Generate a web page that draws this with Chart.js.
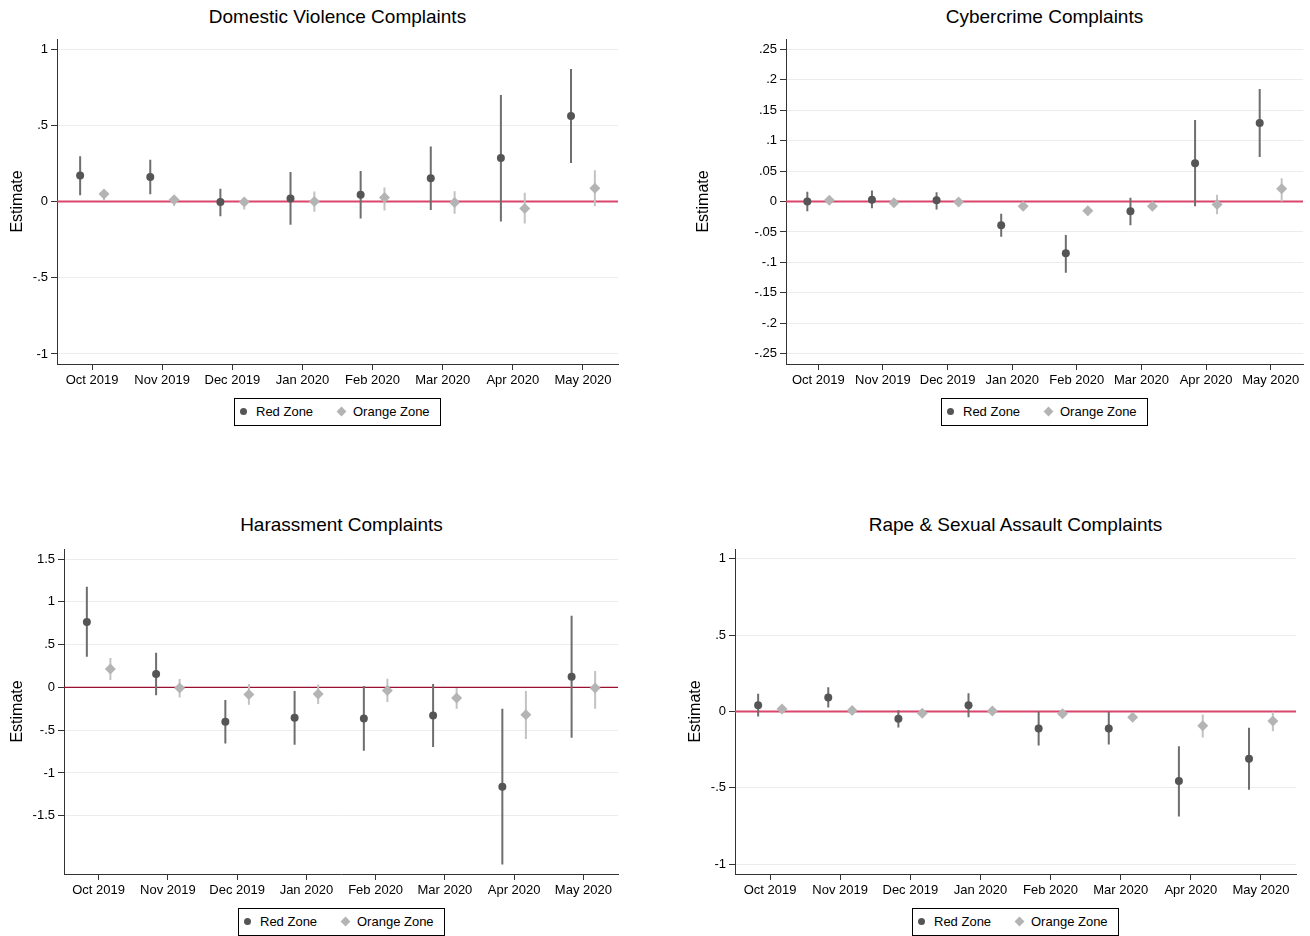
<!DOCTYPE html>
<html>
<head>
<meta charset="utf-8">
<script src="https://cdn.jsdelivr.net/npm/chart.js@4.4.1/dist/chart.umd.min.js"></script>
<style>
  html, body { margin:0; padding:0; background:#fff; }
  body { width:1310px; height:936px; position:relative; overflow:hidden; font-family:"Liberation Sans", Arial, sans-serif; }
  canvas { position:absolute; }
  .title { position:absolute; font-size:19px; color:#000; text-align:center; white-space:nowrap; line-height:24px; }
  .legend { position:absolute; width:205px; height:26px; border:1px solid #000; box-sizing:content-box; font-size:13px; color:#000; }
  .legend .dot { position:absolute; left:5px; top:9px; width:7px; height:7px; border-radius:50%; background:#555; }
  .legend .dia { position:absolute; left:103px; top:9px; width:7px; height:7px; background:#b4b4b4; transform:rotate(45deg); }
  .legend .t1 { position:absolute; left:21px; top:5px; line-height:16px; }
  .legend .t2 { position:absolute; left:118px; top:5px; line-height:16px; }
</style>
</head>
<body>
<div class="title" style="left:137px; top:5px; width:401px;">Domestic Violence Complaints</div>
<div class="title" style="left:844px; top:5px; width:401px;">Cybercrime Complaints</div>
<div class="title" style="left:141px; top:513px; width:401px;">Harassment Complaints</div>
<div class="title" style="left:815px; top:513px; width:401px;">Rape &amp; Sexual Assault Complaints</div>

<canvas id="c1" width="655" height="395" style="left:0px; top:0px;"></canvas>
<canvas id="c2" width="630" height="395" style="left:680px; top:0px;"></canvas>
<canvas id="c3" width="655" height="395" style="left:0px; top:510px;"></canvas>
<canvas id="c4" width="630" height="395" style="left:680px; top:510px;"></canvas>

<div class="legend" style="left:234px; top:398px;"><span class="dot"></span><span class="t1">Red Zone</span><span class="dia"></span><span class="t2">Orange Zone</span></div>
<div class="legend" style="left:941px; top:398px;"><span class="dot"></span><span class="t1">Red Zone</span><span class="dia"></span><span class="t2">Orange Zone</span></div>
<div class="legend" style="left:238px; top:908px;"><span class="dot"></span><span class="t1">Red Zone</span><span class="dia"></span><span class="t2">Orange Zone</span></div>
<div class="legend" style="left:912px; top:908px;"><span class="dot"></span><span class="t1">Red Zone</span><span class="dia"></span><span class="t2">Orange Zone</span></div>

<script>
// ---------------- DATA ----------------
const months = ['Oct 2019', 'Nov 2019', 'Dec 2019', 'Jan 2020', 'Feb 2020', 'Mar 2020', 'Apr 2020', 'May 2020'];
const seriesNames = ['Red Zone', 'Orange Zone'];

// Domestic Violence
const dvRedEst = [0.170, 0.160, -0.004, 0.020, 0.044, 0.153, 0.286, 0.561];
const dvRedLo  = [0.041, 0.048, -0.096, -0.153, -0.111, -0.055, -0.131, 0.253];
const dvRedHi  = [0.297, 0.273, 0.083, 0.194, 0.200, 0.360, 0.699, 0.869];
const dvOrgEst = [0.050, 0.011, -0.004, 0.000, 0.026, -0.007, -0.046, 0.087];
const dvOrgLo  = [0.005, -0.030, -0.052, -0.068, -0.059, -0.081, -0.144, -0.031];
const dvOrgHi  = [0.080, 0.035, 0.024, 0.065, 0.092, 0.068, 0.057, 0.205];
const dvTicks = [-1, -0.5, 0, 0.5, 1];
const dvTickLabels = ['-1', '-.5', '0', '.5', '1'];

// Cybercrime
const cyRedEst = [0.000, 0.003, 0.002, -0.039, -0.085, -0.016, 0.063, 0.129];
const cyRedLo  = [-0.016, -0.011, -0.013, -0.058, -0.117, -0.039, -0.008, 0.073];
const cyRedHi  = [0.016, 0.018, 0.015, -0.020, -0.055, 0.006, 0.134, 0.185];
const cyOrgEst = [0.002, -0.002, -0.001, -0.008, -0.015, -0.008, -0.005, 0.021];
const cyOrgLo  = [-0.002, -0.006, -0.005, -0.012, -0.023, -0.012, -0.021, 0.000];
const cyOrgHi  = [0.006, 0.002, 0.003, -0.004, -0.009, -0.004, 0.011, 0.038];
const cyTicks = [-0.25, -0.2, -0.15, -0.1, -0.05, 0, 0.05, 0.1, 0.15, 0.2, 0.25];
const cyTickLabels = ['-.25', '-.2', '-.15', '-.1', '-.05', '0', '.05', '.1', '.15', '.2', '.25'];

// Harassment
const haRedEst = [0.764, 0.156, -0.401, -0.354, -0.362, -0.327, -1.161, 0.125];
const haRedLo  = [0.358, -0.093, -0.654, -0.670, -0.740, -0.697, -2.069, -0.588];
const haRedHi  = [1.176, 0.405, -0.148, -0.043, 0.016, 0.039, -0.249, 0.838];
const haOrgEst = [0.214, -0.008, -0.082, -0.078, -0.035, -0.125, -0.319, -0.008];
const haOrgLo  = [0.086, -0.117, -0.203, -0.195, -0.171, -0.249, -0.604, -0.249];
const haOrgHi  = [0.343, 0.097, 0.039, 0.035, 0.101, -0.008, -0.043, 0.191];
const haTicks = [-1.5, -1, -0.5, 0, 0.5, 1, 1.5];
const haTickLabels = ['-1.5', '-1', '-.5', '0', '.5', '1', '1.5'];

// Rape & Sexual Assault
const raRedEst = [0.041, 0.092, -0.048, 0.041, -0.111, -0.111, -0.456, -0.310];
const raRedLo  = [-0.033, 0.026, -0.105, -0.037, -0.223, -0.216, -0.688, -0.513];
const raRedHi  = [0.116, 0.159, 0.009, 0.120, 0.000, -0.002, -0.227, -0.107];
const raOrgEst = [0.017, 0.007, -0.011, 0.004, -0.015, -0.037, -0.094, -0.063];
const raOrgLo  = [0.004, -0.006, -0.024, -0.010, -0.028, -0.050, -0.170, -0.129];
const raOrgHi  = [0.030, 0.020, 0.002, 0.018, -0.002, -0.024, -0.020, -0.002];
const raTicks = [-1, -0.5, 0, 0.5, 1];
const raTickLabels = ['-1', '-.5', '0', '.5', '1'];

// ---------------- STYLE / BUILD ----------------
const RED_OFF = -0.17, ORG_OFF = 0.17;
const FONT = '"Liberation Sans", Arial, sans-serif';

function pts(est, off) { return est.map((v, i) => ({ x: i + off, y: v })); }
function segs(lo, hi, off) {
  const out = [];
  lo.forEach((l, i) => { out.push({ x: i + off, y: l }, { x: i + off, y: hi[i] }, { x: i + off, y: null }); });
  return out;
}

function makePanel(id, p) {
  const datasets = [
    { label: seriesNames[0], data: pts(p.redEst, RED_OFF), showLine: false, pointStyle: 'circle', pointRadius: 4, pointBackgroundColor: '#555555', pointBorderColor: '#555555', pointBorderWidth: 0, order: 0 },
    { label: seriesNames[1], data: pts(p.orgEst, ORG_OFF), showLine: false, pointStyle: 'rectRot', pointRadius: 5.5, pointBackgroundColor: '#b4b4b4', pointBorderColor: '#b4b4b4', pointBorderWidth: 0, order: 1 },
    { label: 'redCI', data: segs(p.redLo, p.redHi, RED_OFF), showLine: true, spanGaps: false, pointRadius: 0, borderColor: '#6e6e6e', borderWidth: 2, order: 2 },
    { label: 'orgCI', data: segs(p.orgLo, p.orgHi, ORG_OFF), showLine: true, spanGaps: false, pointRadius: 0, borderColor: '#c2c2c2', borderWidth: 2, order: 3 },
    { label: 'zero', data: [{ x: -0.5, y: 0 }, { x: 7.5, y: 0 }], showLine: true, pointRadius: 0, borderColor: p.zeroColor, borderWidth: p.zeroWidth, order: 4 }
  ];
  new Chart(document.getElementById(id), {
    type: 'scatter',
    data: { datasets },
    options: {
      responsive: false, animation: false, devicePixelRatio: 1,
      layout: { padding: { top: 39, right: p.padRight, bottom: 0, left: 0 } },
      plugins: { legend: { display: false }, tooltip: { enabled: false }, title: { display: false } },
      scales: {
        x: {
          type: 'linear', min: -0.5, max: 7.5,
          afterBuildTicks: (s) => { s.ticks = months.map((m, i) => ({ value: i })); },
          afterFit: (s) => { s.height = 31; },
          ticks: { callback: (v) => months[Math.round(v)] ?? '', autoSkip: false, maxRotation: 0, minRotation: 0, padding: 3, color: '#000', font: { family: FONT, size: 13 } },
          grid: { drawOnChartArea: false, drawTicks: true, tickLength: 6, tickColor: '#333', tickWidth: 1 },
          border: { display: true, color: '#333', width: 1 }
        },
        y: {
          type: 'linear', min: p.yMin, max: p.yMax,
          afterBuildTicks: (s) => { s.ticks = p.ticks.map(v => ({ value: v })); },
          afterFit: (s) => { s.width = p.yWidth; },
          ticks: {
            callback: (v) => { const k = p.ticks.findIndex(t => Math.abs(t - v) < 1e-9); return k >= 0 ? p.labels[k] : ''; },
            autoSkip: false, padding: 3, color: '#000', font: { family: FONT, size: 13 }
          },
          grid: { color: '#ececec', lineWidth: 1, drawTicks: true, tickLength: 6, tickColor: '#333', tickWidth: 1 },
          border: { display: true, color: '#333', width: 1 },
          title: { display: true, text: 'Estimate', color: '#000', font: { family: FONT, size: 16 }, padding: { top: p.titlePad, bottom: 0 } }
        }
      }
    }
  });
}

makePanel('c1', { redEst: dvRedEst, redLo: dvRedLo, redHi: dvRedHi, orgEst: dvOrgEst, orgLo: dvOrgLo, orgHi: dvOrgHi,
  ticks: dvTicks, labels: dvTickLabels, yMin: -1.0656, yMax: 1.0656, yWidth: 57, padRight: 37, titlePad: 8, zeroColor: '#d9456b', zeroWidth: 2 });
makePanel('c2', { redEst: cyRedEst, redLo: cyRedLo, redHi: cyRedHi, orgEst: cyOrgEst, orgLo: cyOrgLo, orgHi: cyOrgHi,
  ticks: cyTicks, labels: cyTickLabels, yMin: -0.267, yMax: 0.267, yWidth: 106, padRight: 7, titlePad: 14, zeroColor: '#d9456b', zeroWidth: 2 });
makePanel('c3', { redEst: haRedEst, redLo: haRedLo, redHi: haRedHi, orgEst: haOrgEst, orgLo: haOrgLo, orgHi: haOrgHi,
  ticks: haTicks, labels: haTickLabels, yMin: -2.18, yMax: 1.617, yWidth: 64, padRight: 37, titlePad: 8, zeroColor: '#9b1030', zeroWidth: 1.3 });
makePanel('c4', { redEst: raRedEst, redLo: raRedLo, redHi: raRedHi, orgEst: raOrgEst, orgLo: raOrgLo, orgHi: raOrgHi,
  ticks: raTicks, labels: raTickLabels, yMin: -1.065, yMax: 1.065, yWidth: 55, padRight: 14, titlePad: 6, zeroColor: '#d9456b', zeroWidth: 2 });
</script>
</body>
</html>
